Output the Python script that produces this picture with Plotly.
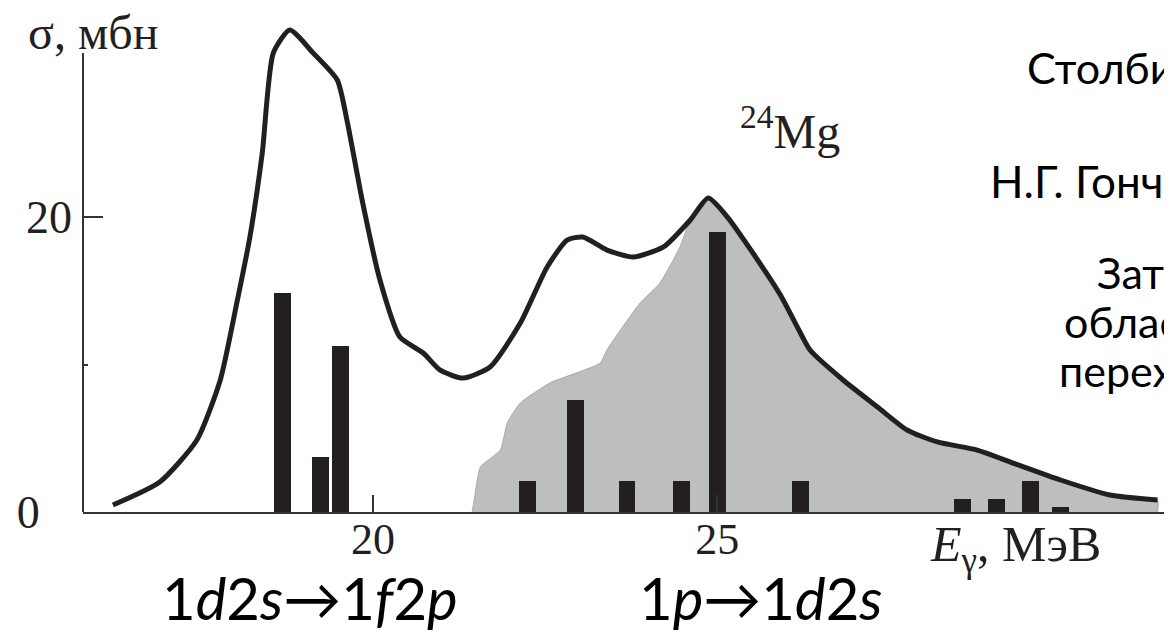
import plotly.graph_objects as go

# ---- data ----
curve_e = [16.22, 16.90, 17.44, 17.78, 18.02, 18.21, 18.39, 18.55, 18.79, 19.13, 19.48, 19.62,
           19.85, 20.10, 20.39, 20.73, 20.97, 21.31, 21.70, 22.14, 22.53, 22.82, 23.05, 23.40,
           23.78, 24.22, 24.61, 24.87, 25.15, 25.52, 25.92, 26.21, 26.35, 26.83, 27.33, 27.76,
           28.20, 28.78, 29.30, 29.99, 30.71, 31.40]
curve_s = [0.47, 2.03, 4.88, 8.95, 14.17, 18.64, 24.34, 31.12, 32.68, 31.12, 29.29, 26.58,
           20.95, 15.73, 11.86, 10.78, 9.63, 9.08, 9.83, 12.81, 16.61, 18.44, 18.64, 17.76,
           17.29, 17.97, 19.80, 21.29, 20.00, 17.56, 14.71, 12.14, 10.98, 8.95, 7.12, 5.56,
           4.75, 4.20, 3.32, 2.17, 1.15, 0.81]

# left edge of the shaded (1p -> 1d2s) region, up to where it meets the curve
shade_edge_e = [21.44, 21.47, 21.56, 21.85, 21.95, 22.14, 22.57, 23.30, 23.40, 23.88, 24.17, 24.46]
shade_edge_s = [0.0, 0.8, 3.05, 4.2, 6.03, 7.39, 8.75, 10.1, 11.0, 14.17, 15.53, 17.97]
shade_join_e = 24.61

bar_e = [18.69, 19.23, 19.53, 22.24, 22.94, 23.69, 24.48, 25.00, 26.21, 28.56, 29.06, 29.55, 29.99]
bar_h = [14.85, 3.7, 11.25, 2.1, 7.6, 2.1, 2.1, 19.0, 2.1, 0.9, 0.9, 2.1, 0.35]

y_ticks = [0, 20]
y_ticktext = ["0\u2007\u2009", "20"]
y_minor = [10]
y_axis_top = 31.12
x_ticks = [20, 25]

OFF = 8  # page body margin
W, H = 1164, 625
ML, MR, MT, MB = 75, 0, 12, 121
XR = [15.785, 31.61]
YR = [0, 33.36]

# build the shaded polygon from the edge plus the curve tail
tail = [(e, s) for e, s in zip(curve_e, curve_s) if e >= shade_join_e]
shade_x = shade_edge_e + [t[0] for t in tail] + [tail[-1][0]]
shade_y = shade_edge_s + [t[1] for t in tail] + [0.0]

fig = go.Figure()
fig.add_trace(go.Scatter(x=shade_x, y=shade_y, fill="toself", mode="lines",
                         fillcolor="#bcbec0", line=dict(color="#a7a9ab", width=1, shape="spline", smoothing=0.5),
                         hoverinfo="skip", showlegend=False))
fig.add_trace(go.Bar(x=bar_e, y=bar_h, width=0.245, marker=dict(color="#231f20", line=dict(width=0)),
                     xaxis="x2", showlegend=False))
fig.add_trace(go.Scatter(x=curve_e, y=curve_s, mode="lines", xaxis="x2",
                         line=dict(color="#231f20", width=5, shape="spline", smoothing=0.6),
                         showlegend=False))

# y-axis line only up to the top tick region, as in the original
fig.add_shape(type="line", xref="paper", yref="y", x0=0, x1=0, y0=0, y1=y_axis_top,
              line=dict(color="#333333", width=2))

serif = "Liberation Serif"
sans = "Lato"

def px(xp, yp):
    xp -= OFF
    yp -= OFF
    return (xp - ML) / (W - ML - MR), (H - MB - yp) / (H - MT - MB)

def note(text, xp, yp, size, family, xanchor="center", color="#231f20"):
    x, y = px(xp, yp)
    fig.add_annotation(text=text, x=x, y=y, xref="paper", yref="paper", xanchor=xanchor,
                       yanchor="middle", showarrow=False, font=dict(size=size, family=family, color=color))

note("σ, мбн", 93, 32, 48, serif)
note("<sup>24</sup>Mg", 790, 128, 48, serif)
note("<i>E</i><sub>γ</sub>, МэВ", 1015, 548, 50, serif)
note("1<i>d</i>2<i>s</i>→1<i>f</i>2<i>p</i>", 310, 597, 58, sans, color="#000000")
note("1<i>p</i>→1<i>d</i>2<i>s</i>", 760, 597, 58, sans, color="#000000")
note("Столбиками", 1025, 68, 43, sans, "left", "#000000")
note("Н.Г. Гончарова", 988, 181, 44, sans, "left", "#000000")
note("Затем", 1095, 272, 43, sans, "left", "#000000")
note("области", 1062, 321, 43, sans, "left", "#000000")
note("переходы", 1057, 370, 43, sans, "left", "#000000")

fig.update_layout(
    width=W, height=H, margin=dict(l=ML, r=MR, t=MT, b=MB),
    paper_bgcolor="white", plot_bgcolor="white", bargap=0,
    xaxis=dict(range=XR, showline=True, linecolor="#333333", linewidth=2, showgrid=False, zeroline=False,
               tickvals=x_ticks, ticks="inside", ticklen=17, tickwidth=2, tickcolor="#333333",
               ticklabelstandoff=-13,
               tickfont=dict(family=serif, size=44, color="#231f20")),
    xaxis2=dict(range=XR, overlaying="x", visible=False),
    yaxis=dict(range=YR, showline=False, showgrid=False, zeroline=False,
               tickvals=y_ticks, ticktext=y_ticktext, ticks="inside", ticklen=20, tickwidth=2,
               tickcolor="#333333", ticklabelstandoff=10,
               tickfont=dict(family=serif, size=46, color="#231f20"),
               minor=dict(tickvals=y_minor, ticks="inside", ticklen=5, tickwidth=2, tickcolor="#333333")),
)

fig.write_html("out.html")
